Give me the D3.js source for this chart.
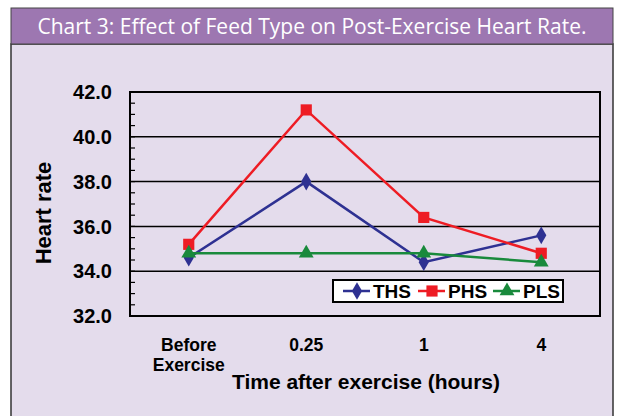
<!DOCTYPE html>
<html>
<head>
<meta charset="utf-8">
<script src="https://cdn.jsdelivr.net/npm/d3@7"></script>
<style>
  body { margin: 0; background: #fff; }
  svg { display: block; }
</style>
</head>
<body>
<div id="chart"></div>
<script>
// data
const categories = ["Before Exercise", "0.25", "1", "4"];
const seriesNames = ["THS", "PHS", "PLS"];
const ths = [34.6, 38.0, 34.4, 35.6];
const phs = [35.2, 41.2, 36.4, 34.8];
const pls = [34.8, 34.8, 34.8, 34.4];
const yTicks = [32, 34, 36, 38, 40, 42];

const width = 624;
const height = 416;
const font = "'Liberation Sans', Arial, sans-serif";

const svg = d3.select("#chart")
    .append("svg")
    .attr("width", width)
    .attr("height", height);

// frame + header
svg.append("rect").attr("x", 11).attr("y", 44).attr("width", 602).attr("height", 380)
    .attr("fill", "#e4dcec").attr("stroke", "#333").attr("stroke-width", 1.5);
svg.append("rect").attr("x", 11).attr("y", 8).attr("width", 602).attr("height", 36)
    .attr("fill", "#9d77b1").attr("stroke", "#444").attr("stroke-width", 1);
svg.append("text").attr("x", 312).attr("y", 34).attr("text-anchor", "middle")
    .attr("fill", "#fff").style("font-family", "'Open Sans', sans-serif")
    .style("font-size", "21px").text("Chart 3: Effect of Feed Type on Post-Exercise Heart Rate.");

const plot = { left: 130, top: 92, right: 600, bottom: 316 };

const x = d3.scalePoint().domain(categories)
    .range([plot.left, plot.right]).padding(0.5);
const y = d3.scaleLinear().domain([32, 42]).range([plot.bottom, plot.top]);

const g = svg.append("g");

// gridlines
g.selectAll(".grid").data(yTicks.slice(1, -1)).join("line")
    .attr("x1", plot.left).attr("x2", plot.right)
    .attr("y1", d => y(d)).attr("y2", d => y(d))
    .attr("stroke", "#000").attr("stroke-width", 1.5);

// minor ticks inside left axis
g.selectAll(".minor").data(d3.range(32, 42.01, 0.5)).join("line")
    .attr("x1", plot.left).attr("x2", plot.left + 5)
    .attr("y1", d => y(d)).attr("y2", d => y(d))
    .attr("stroke", "#000").attr("stroke-width", 1.2);

// plot border
g.append("rect").attr("x", plot.left).attr("y", plot.top)
    .attr("width", plot.right - plot.left).attr("height", plot.bottom - plot.top)
    .attr("fill", "none").attr("stroke", "#000").attr("stroke-width", 2);

// y tick labels
g.selectAll(".ylab").data(yTicks).join("text")
    .attr("x", 112).attr("y", d => y(d)).attr("dy", "0.36em")
    .attr("text-anchor", "end")
    .style("font-family", font)
    .style("font-weight", "bold").style("font-size", "20px")
    .text(d => d.toFixed(1));

// x labels
const xl = g.selectAll(".xlab").data(categories).join("text")
    .attr("text-anchor", "middle")
    .style("font-family", font)
    .style("font-weight", "bold").style("font-size", "17.5px");
xl.each(function(d) {
    const words = d === "Before Exercise" ? ["Before", "Exercise"] : [d];
    words.forEach((w, i) => {
        d3.select(this).append("tspan").attr("x", x(d)).attr("y", 351 + i * 20).text(w);
    });
});

// axis titles
svg.append("text").attr("x", 366).attr("y", 389).attr("text-anchor", "middle")
    .style("font-family", font)
    .style("font-weight", "bold").style("font-size", "21px")
    .text("Time after exercise (hours)");
svg.append("text")
    .attr("transform", "translate(51,213) rotate(-90)")
    .attr("text-anchor", "middle")
    .style("font-family", font)
    .style("font-weight", "bold").style("font-size", "22px")
    .text("Heart rate");

// series
const series = [
    { name: seriesNames[0], values: ths, color: "#2e3192", symbol: d3.symbolDiamond, size: 90 },
    { name: seriesNames[1], values: phs, color: "#ee1c24", symbol: d3.symbolSquare, size: 125 },
    { name: seriesNames[2], values: pls, color: "#198a3c", symbol: d3.symbolTriangle, size: 95 }
];

const line = d3.line().x((d, i) => x(categories[i])).y(d => y(d));

series.forEach(s => {
    g.append("path").datum(s.values)
        .attr("d", line).attr("fill", "none")
        .attr("stroke", s.color).attr("stroke-width", 2.5);
    g.selectAll(null).data(s.values).join("path")
        .attr("transform", (d, i) => `translate(${x(categories[i])},${y(d)})`)
        .attr("d", d3.symbol().type(s.symbol).size(s.size))
        .attr("fill", s.color);
});

// legend
const legend = svg.append("g").attr("transform", "translate(333,280)");
legend.append("rect").attr("width", 230).attr("height", 22)
    .attr("fill", "#fff").attr("stroke", "#000").attr("stroke-width", 2);
const legendItems = legend.selectAll(".li").data(series).join("g")
    .attr("transform", (d, i) => `translate(${10 + i * 75},11)`);
legendItems.append("line").attr("x1", 0).attr("x2", 27)
    .attr("stroke", d => d.color).attr("stroke-width", 2.5);
legendItems.append("path").attr("transform", "translate(14,0)")
    .attr("d", d => d3.symbol().type(d.symbol).size(d.size)())
    .attr("fill", d => d.color);
legendItems.append("text").attr("x", 30).attr("dy", "0.36em")
    .style("font-family", font)
    .style("font-weight", "bold").style("font-size", "19px")
    .text(d => d.name);
</script>
</body>
</html>
